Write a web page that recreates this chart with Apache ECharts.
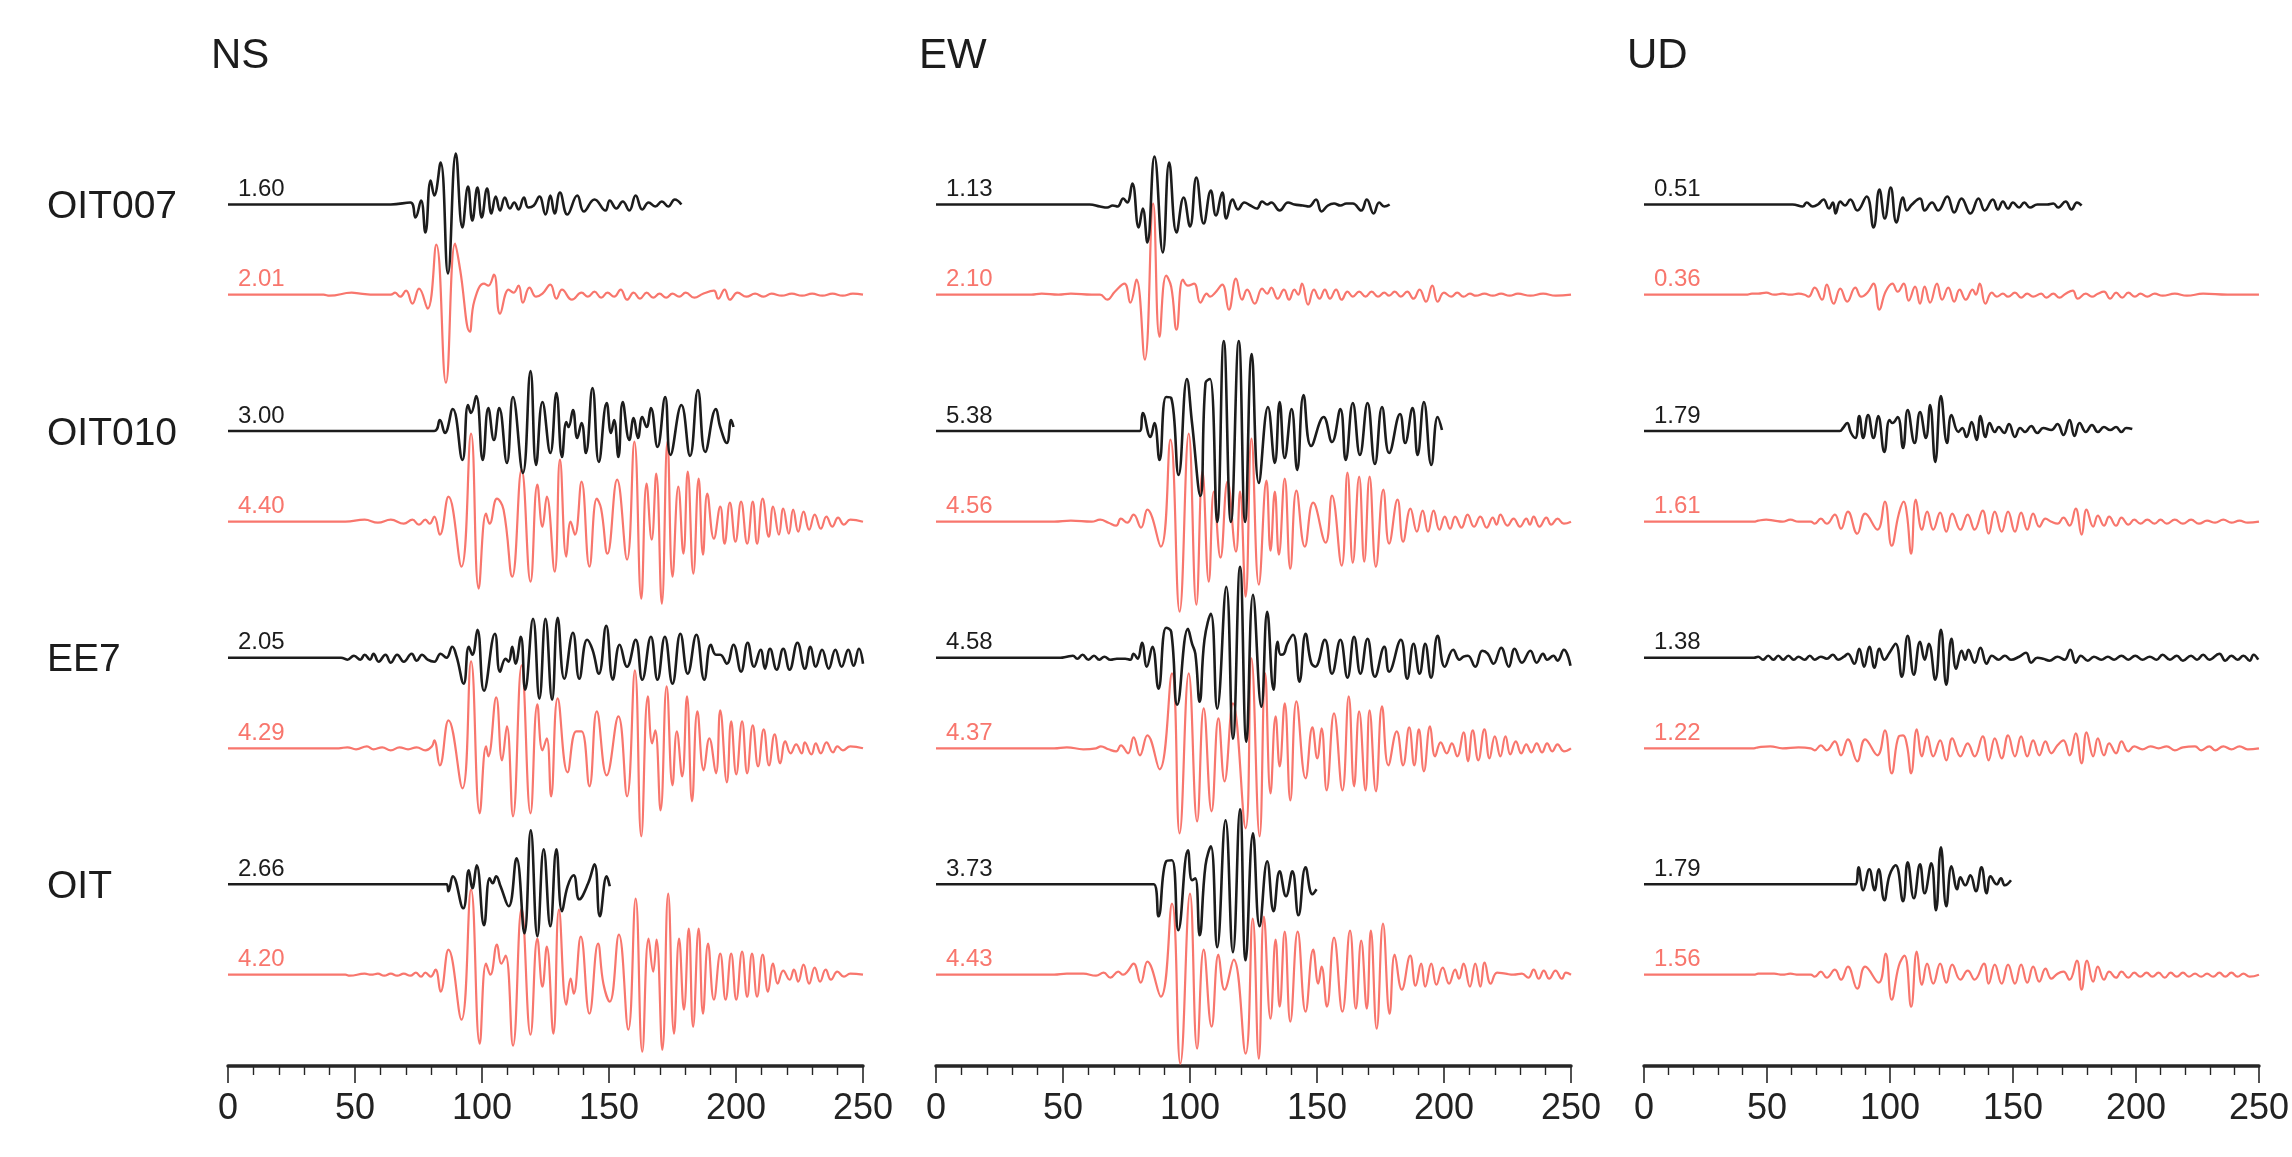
<!DOCTYPE html>
<html>
<head>
<meta charset="utf-8">
<script src="https://cdn.jsdelivr.net/npm/echarts@6/dist/echarts.min.js"></script>
<style>html,body{margin:0;padding:0;background:#fff}#c{width:2292px;height:1157px}</style>
</head>
<body>
<div id="c"></div>
<script>
// ---- labels ----
const components = ['NS', 'EW', 'UD'];
const stations = ['OIT007', 'OIT010', 'EE7', 'OIT'];
const xTicks = [0, 50, 100, 150, 200, 250];
const ampObsNS = ['1.60', '3.00', '2.05', '2.66'];
const ampSynNS = ['2.01', '4.40', '4.29', '4.20'];
const ampObsEW = ['1.13', '5.38', '4.58', '3.73'];
const ampSynEW = ['2.10', '4.56', '4.37', '4.43'];
const ampObsUD = ['0.51', '1.79', '1.38', '1.79'];
const ampSynUD = ['0.36', '1.61', '1.22', '1.56'];

// ---- waveforms: [time (s), relative amplitude] ----
const nsObsOIT007 = [[0,0],[64.1,0],[71.8,2],[73.8,-13],[76.0,4],[77.7,-28],[79.8,24],[81.2,9],[83.7,42],[86.6,-69],[89.7,51],[92.3,-23],[94.5,18],[96.2,-16],[98.2,17],[99.9,-13],[102.0,16],[103.7,-9],[105.4,8],[107.1,-6],[109.0,7],[111.0,-4],[112.7,2],[114.4,-5],[116.5,7],[118.2,-3],[120.4,-1],[122.6,8],[125.0,-10],[126.9,9],[128.6,-9],[130.7,12],[133.6,-10],[137.5,9],[140.1,-7],[144.3,5],[148.6,-6],[150.3,4],[152.9,-4],[155.4,3],[158.0,-6],[160.5,9],[163.1,-5],[165.6,2],[168.2,-2],[170.8,3],[173.3,-2],[175.9,5],[178.5,0]];
const nsSynOIT007 = [[0,0],[37.6,0],[40,-1],[48.7,2],[52.1,1],[58,0],[64.1,0],[65.8,2],[67.8,-2],[70.1,4],[72.6,-9],[75.2,6],[78.6,-14],[82.0,50],[85.8,-88],[89.4,51],[91.4,25],[95.2,-37],[97.0,-6],[100.8,11],[102.5,9],[104.7,20],[107.1,-19],[110.5,5],[112.4,2],[114.4,9],[116.1,-8],[118.7,7],[121.3,-2],[123.8,1],[126.9,10],[129.3,-4],[131.5,5],[135.4,-5],[139.2,2],[141.7,-2],[144.3,3],[146.9,-3],[149.4,2],[152.0,-2],[154.6,5],[157.1,-5],[159.7,2],[162.2,-4],[164.8,2],[167.4,-3],[169.9,1],[172.5,-3],[175.0,1],[177.6,-2],[180.2,2],[183.6,-3],[187.0,1],[191.3,4],[193.0,-4],[195.5,5],[197.6,-5],[200.6,2],[204.1,-2],[207.5,1],[210.9,-2],[214,1],[218,-1],[222,1],[226,-1],[230,1],[234,-1],[238,1],[242,-1],[246,1],[250,0]];
const nsObsOIT010 = [[0,0],[81.2,0],[83.4,11],[85.4,-2],[88.5,22],[92.3,-29],[94.5,26],[95.7,18],[97.7,35],[100.3,-29],[102.5,23],[104.7,-9],[106.8,23],[109.8,-32],[112.2,34],[116.1,-42],[119.1,60],[121.3,-34],[123.8,29],[126.9,-22],[129.3,38],[131.5,-26],[133.2,9],[134.1,4],[135.8,21],[137.5,-7],[139.2,8],[140.9,-22],[143.5,43],[146.0,-31],[149.1,28],[150.8,-2],[152.0,11],[153.7,-26],[155.4,29],[158.0,-9],[159.7,13],[161.4,-7],[163.1,14],[164.8,4],[166.5,23],[169.1,-16],[172.1,34],[174.2,-24],[178.5,26],[181.9,-25],[185.0,41],[187.9,-21],[192.1,22],[193.8,4],[196.4,-12],[198.1,11],[199.0,4]];
const nsSynOIT010 = [[0,0],[46.2,0],[53.8,2],[59.0,-1],[64.1,2],[69.2,-2],[72.6,2],[75.2,-3],[77.7,2],[79.4,-2],[81.2,5],[83.4,-13],[86.8,25],[91.9,-45],[95.7,88],[98.7,-67],[101.6,8],[103.0,-2],[105.9,23],[108.5,12],[111.9,-55],[115.6,52],[119.1,-60],[121.8,37],[123.8,-5],[125.5,25],[128.6,-50],[130.7,62],[133.2,-35],[134.9,0],[136.6,-13],[139.2,40],[142.3,-45],[145.2,23],[146.9,13],[149.4,-32],[153.2,42],[157.1,-38],[160.0,80],[162.7,-77],[164.8,38],[166.8,-18],[168.6,48],[170.8,-82],[173.0,80],[175.0,-55],[177.3,35],[179.3,-32],[181.0,50],[183.2,-52],[185.3,43],[187.0,-33],[188.7,28],[191.3,-17],[193.8,15],[195.5,-22],[197.6,19],[199.8,-20],[202.0,20],[204.4,-22],[206.6,20],[208.3,-22],[210.5,23],[212.9,-15],[214.6,15],[216.9,-13],[218.6,13],[220.8,-12],[222.5,12],[224.5,-10],[226.6,10],[228.8,-8],[231.0,7],[233.4,-7],[235.6,5],[237.9,-5],[240.2,4],[242.5,-3],[245.0,2],[250,0]];
const nsObsEE7 = [[0,0],[44.5,0],[47.0,-2],[49.6,2],[52.1,-2],[53.8,3],[55.9,-2],[57.3,4],[59.3,-4],[62.0,3],[64.1,-5],[66.6,3],[69.2,-4],[72.3,4],[74.3,-3],[76.4,3],[78.6,-2],[81.2,-4],[83.7,4],[86.0,0],[88.3,11],[90.0,1],[92.8,-26],[94.8,11],[96.2,3],[98.2,28],[100.8,-33],[105.1,24],[107.1,-14],[109.3,-1],[110.5,-4],[111.9,11],[113.2,-6],[115.3,21],[117.0,-32],[120.1,39],[122.6,-41],[125.0,39],[127.6,-42],[129.8,40],[132.4,-21],[135.8,25],[138.3,-21],[141.4,18],[143.5,8],[146.0,-16],[148.9,32],[151.5,-22],[154.2,13],[157.1,-9],[160.5,18],[163.1,-22],[166.5,21],[169.1,-22],[172.0,21],[175.0,-26],[178.1,24],[181.0,-16],[184.4,23],[187.5,-22],[190.1,13],[192.1,3],[193.8,3],[196.4,-6],[199.0,13],[202.0,-14],[204.6,15],[207.1,-9],[209.7,8],[211.4,-11],[213.4,9],[216.0,-12],[218.6,9],[221.1,-12],[224.2,15],[227.1,-11],[229.3,11],[231.4,-9],[233.9,8],[236.5,-11],[239.1,8],[241.6,-9],[244.2,8],[246.3,-8],[248.4,9],[250,-6]];
const nsSynEE7 = [[0,0],[43.6,0],[47.0,1],[50.4,-1],[54.7,2],[57.3,-1],[60.7,1],[64.1,-2],[67.5,1],[70.9,-1],[74.3,1],[77.7,-2],[80.3,2],[81.2,8],[83.4,-17],[86.8,28],[92.3,-40],[95.7,87],[99.1,-65],[101.6,2],[102.5,-8],[105.6,51],[107.9,-12],[109.8,22],[112.2,-68],[115.6,83],[119.1,-65],[121.8,44],[123.8,-2],[125.5,10],[127.2,-48],[129.8,50],[133.7,-24],[137.1,17],[139.2,17],[142.3,-38],[145.2,37],[149.1,-27],[153.7,32],[157.1,-48],[160.2,78],[162.7,-88],[165.3,52],[167.0,5],[168.2,18],[170.3,-62],[172.7,62],[175.0,-37],[176.7,17],[178.8,-28],[180.7,52],[182.7,-53],[184.8,37],[187.3,-22],[189.5,10],[192.1,-25],[193.8,38],[196.4,-34],[198.1,27],[200.1,-26],[202.4,27],[204.4,-25],[206.6,23],[208.7,-18],[210.9,19],[213.0,-17],[215.2,14],[217.4,-15],[219.4,7],[221.5,-5],[223.7,4],[225.9,-5],[227.1,6],[229.7,-6],[231.4,5],[233.4,-5],[235.6,6],[238.2,-4],[239.9,2],[242.1,-2],[245.0,2],[250,0]];
const nsObsOIT = [[0,0],[86.0,0],[86.8,-7],[88.5,8],[92.6,-24],[94.8,14],[96.2,-4],[97.9,19],[100.8,-41],[103.0,6],[104.2,1],[105.6,8],[107.3,-2],[110.5,-22],[113.6,26],[116.7,-49],[119.2,54],[121.8,-52],[124.3,35],[126.9,-42],[129.3,35],[131.5,-27],[133.7,-2],[136.1,9],[138.3,-15],[141.8,1],[144.3,20],[146.4,-32],[149.1,8],[150.3,-2]];
const nsSynOIT = [[0,0],[46.2,0],[47.9,-1],[53.8,1],[56.4,0],[59.0,1],[61.5,-1],[64.1,1],[66.6,-1],[69.2,1],[71.8,-1],[74.0,2],[76.0,-2],[77.7,2],[79.8,-2],[81.7,5],[83.7,-17],[86.8,25],[91.9,-45],[95.7,85],[99.1,-69],[101.6,11],[103.3,0],[105.9,30],[107.6,11],[109.3,19],[112.2,-71],[115.6,66],[119.1,-60],[121.8,36],[123.8,-12],[125.5,28],[128.1,-59],[130.3,65],[133.2,-30],[134.9,-4],[136.1,-19],[138.9,38],[142.3,-39],[145.7,31],[147.8,-9],[150.3,-27],[153.9,40],[157.6,-55],[160.5,76],[163.1,-77],[165.6,36],[167.4,3],[168.7,35],[171.0,-75],[173.3,81],[175.6,-59],[177.6,36],[179.5,-35],[181.4,46],[183.1,-52],[185.3,46],[187.0,-39],[189.0,31],[191.3,-25],[193.8,21],[195.9,-25],[198.1,21],[200.1,-25],[202.4,23],[204.4,-22],[206.3,21],[208.3,-22],[210.5,20],[212.6,-17],[214.6,11],[216.4,-9],[218.6,4],[221.1,-5],[222.8,5],[224.5,-7],[226.6,10],[228.8,-9],[231.0,7],[233.1,-7],[235.3,5],[237.4,-5],[239.9,3],[242.5,-2],[245.0,1],[250,0]];

const ewObsOIT007 = [[0,0],[60.5,0],[64.6,-2],[67.4,-3],[69.6,-1],[71.5,-2],[73.7,6],[75.3,2],[77.3,21],[79.8,-23],[81.4,-4],[83.2,-38],[86.0,48],[89.3,-48],[91.8,42],[94.7,-28],[97.5,7],[100.0,-22],[102.5,27],[105.4,-19],[108.2,14],[110.2,-11],[112.7,12],[114.3,-14],[116.8,5],[118.9,-5],[121.4,2],[123.8,-1],[126.3,-4],[128.4,3],[130.4,0],[132.0,2],[135.3,-6],[138.6,2],[141.1,0],[144.4,-1],[146.9,-2],[149.6,5],[151.8,-7],[154.3,-1],[156.7,1],[159.2,-1],[161.6,1],[164.1,1],[167.4,-6],[169.6,5],[172.3,-9],[174.5,2],[176.5,-2],[178.6,0]];
const ewSynOIT007 = [[0,0],[37.5,0],[41.6,1],[48.2,0],[53.1,1],[61.3,0],[64.6,0],[67.4,-5],[70.4,3],[74.2,11],[76.5,-8],[78.9,15],[82.2,-65],[85.5,91],[88.0,-42],[90.6,19],[92.6,8],[94.7,-35],[97.2,15],[99.2,9],[101.6,11],[104.1,-8],[106.6,1],[107.9,-2],[109.9,2],[112.7,10],[115.3,-15],[118.1,16],[120.5,-5],[122.5,5],[125.5,-9],[128.4,6],[130.4,1],[132.0,7],[134.5,-4],[137.0,5],[139.0,-5],[141.1,5],[142.6,0],[144.1,11],[146.5,-10],[148.8,5],[151.0,-4],[153.1,5],[155.1,-4],[157.5,5],[159.7,-5],[162.0,3],[164.1,-2],[166.6,3],[169.1,-2],[171.5,3],[174.0,-2],[176.5,2],[178.4,-1],[180.6,3],[183.0,-2],[185.5,3],[188.0,-4],[190.4,5],[192.9,-7],[195.4,9],[197.5,-7],[200.0,2],[202.8,-2],[205.2,2],[207.7,-2],[210.2,1],[212.6,-1],[215.9,1],[219.2,-1],[222.5,1],[225.8,-1],[229.1,1],[234.0,-1],[239.0,1],[244,-1],[250,0]];
const ewObsOIT010 = [[0,0],[80.2,0],[81.4,18],[84.4,-6],[86.0,8],[88.0,-29],[90.6,34],[92.6,33],[95.5,-44],[98.8,52],[100.8,8],[104.1,-65],[106.1,48],[107.9,52],[110.7,-91],[113.3,90],[116.1,-91],[119.2,90],[121.7,-91],[124.3,77],[127.1,-52],[130.7,24],[133.4,-32],[135.3,29],[137.3,-27],[140.0,22],[142.2,-39],[144.7,36],[147.7,-15],[152.6,14],[155.9,-11],[159.2,22],[161.3,-29],[164.1,28],[166.9,-24],[169.9,28],[172.8,-33],[175.6,24],[178.4,-22],[182.7,17],[184.7,-12],[187.6,23],[189.6,-24],[192.1,29],[195.0,-34],[197.5,14],[199.2,1]];
const ewSynOIT010 = [[0,0],[46.5,0],[53.1,1],[61.3,0],[64.6,2],[67.9,-1],[70.9,-4],[72.8,3],[75.3,-1],[77.8,7],[80.7,-6],[83.2,12],[88.5,-25],[92.3,82],[95.9,-90],[99.5,88],[102.5,-83],[104.9,50],[107.4,-60],[109.4,30],[112.0,-36],[114.8,40],[118.1,-30],[119.7,30],[121.9,-75],[124.2,83],[127.1,-63],[130.1,41],[131.7,-29],[133.4,30],[135.0,-33],[137.3,43],[139.5,-47],[141.9,31],[145.2,-25],[148.5,19],[153.4,-21],[155.9,26],[159.7,-44],[162.0,49],[164.1,-41],[166.6,45],[168.6,-40],[170.7,45],[173.2,-45],[176.1,32],[178.4,-22],[181.7,22],[183.9,-20],[186.8,13],[189.3,-10],[191.6,11],[193.7,-10],[195.9,11],[198.2,-8],[200.3,5],[202.4,-7],[204.4,5],[206.9,-6],[209.3,7],[211.8,-5],[214.3,5],[216.8,-6],[219.2,4],[220.7,-3],[222.2,7],[225.0,-4],[227.4,3],[229.9,-5],[232.4,3],[233.8,-3],[235.3,5],[237.6,-5],[240.3,4],[242.2,-3],[244.7,3],[247.2,-2],[250,0]];
const ewObsEE7 = [[0,0],[49.0,0],[51.5,1],[53.9,2],[55.6,-1],[57.7,3],[60.0,-2],[62.2,2],[64.3,-2],[66.3,1],[68.7,-2],[71.2,-1],[74.5,-1],[76.5,-2],[77.8,4],[79.4,-1],[81.1,15],[83.0,-9],[85.2,11],[87.6,-31],[90.6,30],[92.6,26],[95.0,-47],[99.2,29],[100.8,14],[102.1,4],[103.8,-44],[105.7,18],[108.2,44],[110.7,-51],[114.3,71],[116.9,-81],[119.7,91],[122.2,-84],[124.8,63],[128.1,-49],[130.4,46],[132.9,-32],[134.5,16],[135.7,3],[137.0,4],[138.3,14],[140.6,23],[143.1,-24],[145.5,24],[147.7,-5],[149.3,-9],[153.1,18],[155.9,-16],[159.2,18],[162.0,-20],[164.6,21],[167.1,-16],[169.9,19],[172.8,-19],[176.5,11],[178.4,-14],[183.0,18],[185.5,-21],[188.0,14],[190.4,-16],[192.6,14],[194.9,-20],[197.5,22],[200.3,-9],[203.6,8],[206.1,-2],[207.7,1],[209.4,2],[212.3,-9],[215.1,7],[217.2,4],[219.5,-6],[222.5,10],[225.5,-9],[227.8,9],[230.7,-5],[234.0,7],[236.5,-5],[239.0,4],[240.6,-2],[243.1,2],[244.7,-3],[247.2,8],[249.8,-8]];
const ewSynEE7 = [[0,0],[46.5,0],[51.5,1],[58.0,-1],[63.0,0],[64.9,2],[67.9,-1],[70.9,-3],[72.8,3],[75.6,-5],[77.8,11],[80.3,-7],[83.2,13],[88.0,-21],[92.9,75],[95.9,-85],[99.5,75],[102.8,-73],[105.4,40],[108.5,-63],[111.2,30],[113.6,-33],[116.9,45],[121.9,-80],[124.2,90],[127.4,-88],[129.6,75],[131.7,-45],[133.7,32],[135.3,-18],[137.3,45],[139.5,-52],[141.9,47],[145.5,-30],[148.2,21],[150.1,-10],[151.8,20],[153.8,-42],[156.7,35],[160.0,-42],[162.5,52],[164.6,-38],[166.6,37],[169.1,-42],[170.7,38],[173.2,-43],[175.6,42],[178.1,-17],[181.4,17],[183.9,-17],[186.3,21],[188.3,-17],[190.1,19],[192.1,-23],[194.5,22],[196.5,-8],[198.7,6],[201.1,-5],[203.1,5],[205.2,-8],[207.7,16],[209.4,-13],[211.3,18],[213.5,-12],[215.9,19],[217.9,-10],[220.0,12],[222.2,-8],[224.2,12],[226.1,-6],[228.3,7],[230.4,-5],[232.4,4],[234.4,-4],[236.5,5],[238.6,-4],[240.6,5],[242.6,-3],[244.7,4],[247.2,-3],[250,0]];
const ewObsOIT = [[0,0],[85.7,0],[87.6,-32],[90.6,23],[92.9,24],[95.4,-46],[99.2,34],[100.8,4],[102.1,6],[103.8,-51],[106.1,19],[108.2,38],[110.7,-63],[114.0,64],[116.9,-68],[119.7,75],[121.9,-76],[124.8,51],[127.4,-42],[130.4,23],[132.9,-27],[135.3,13],[137.8,-12],[140.3,13],[142.7,-31],[145.5,17],[148.2,-10],[149.8,-5]];
const ewSynOIT = [[0,0],[46.5,0],[51.5,1],[58.0,1],[63.0,-1],[66.0,2],[68.7,-3],[71.7,3],[73.7,0],[75.3,3],[77.8,11],[80.6,-8],[83.2,13],[88.5,-22],[92.9,71],[96.2,-89],[100.0,81],[102.8,-74],[105.4,25],[108.5,-52],[111.2,20],[113.6,-15],[117.2,15],[121.9,-79],[124.7,56],[127.1,-84],[129.1,58],[131.7,-44],[133.7,35],[135.3,-32],[137.3,43],[139.5,-47],[142.4,43],[145.5,-37],[148.5,25],[150.5,-9],[151.8,8],[153.9,-32],[156.7,37],[160.0,-37],[163.0,44],[165.3,-34],[167.4,34],[169.6,-34],[171.2,44],[173.5,-54],[176.0,51],[178.6,-39],[180.6,20],[183.4,-15],[186.7,19],[188.8,-11],[191.0,11],[192.6,-12],[195.0,11],[197.0,-10],[199.5,7],[202.0,-9],[204.4,5],[205.9,-4],[207.7,11],[210.2,-12],[212.3,11],[214.3,-12],[216.0,12],[218.4,-9],[220.9,2],[224.2,1],[227.4,0],[230.7,1],[233.2,-3],[235.3,5],[237.3,-4],[239.3,4],[241.4,-4],[243.9,4],[246.4,-4],[248.0,2],[250,0]];

const udObsOIT007 = [[0,0],[60.4,0],[64.5,-2],[66.1,2],[68.6,-2],[70.7,0],[73.0,5],[75.2,-4],[76.8,2],[77.9,-9],[79.8,3],[81.7,-1],[83.9,5],[86.7,-6],[90.5,8],[93.3,-23],[95.7,15],[97.9,-14],[100.3,17],[102.6,-18],[105.3,7],[106.9,-6],[108.9,0],[112.2,6],[114.1,-6],[117.1,2],[119.6,-6],[123.3,8],[126.1,-8],[129.1,6],[132.7,-9],[136.0,6],[138.5,-6],[141.8,5],[143.9,-5],[145.9,3],[148.0,-4],[150.0,2],[152.5,-3],[154.6,2],[156.9,-3],[159.9,0],[163.9,0],[166.4,1],[168.4,-3],[171.4,3],[173.8,-5],[176.0,2],[177.9,-1]];
const udSynOIT007 = [[0,0],[41.5,0],[43.9,1],[46.4,1],[49.7,2],[52.9,0],[56.3,1],[59.5,0],[62.8,1],[65.3,0],[66.9,-2],[69.4,7],[72.4,-5],[74.3,10],[77.1,-9],[79.8,6],[82.6,-7],[85.9,7],[88.3,-2],[90.8,2],[93.3,11],[95.7,-15],[98.2,3],[101.0,11],[103.1,3],[105.6,11],[107.6,-6],[110.2,8],[112.2,-9],[114.1,8],[116.3,-8],[119.1,11],[121.2,-5],[123.7,7],[126.1,-7],[128.3,5],[130.8,-5],[133.6,5],[134.9,0],[136.5,11],[138.8,-9],[141.4,2],[143.4,-2],[145.9,1],[148.0,-2],[150.8,2],[153.3,-3],[155.8,1],[158.2,-2],[161.5,1],[163.5,-3],[166.4,1],[168.9,-3],[171.4,1],[174.3,4],[176.3,-4],[179.6,1],[182.1,-2],[184.5,1],[187.0,3],[189.5,-4],[191.9,2],[194.4,-3],[196.9,2],[199.6,-2],[201.8,1],[204.6,-2],[207.6,1],[210.8,-1],[215.8,1],[220.7,-1],[227.3,1],[237.2,0],[250,0]];
const udObsOIT010 = [[0,0],[79.6,0],[80.9,3],[82.6,8],[84.2,-2],[85.9,-7],[87.5,15],[89.1,-7],[91.1,16],[93.3,-7],[95.2,15],[97.7,-21],[99.8,11],[101.0,8],[103.1,14],[105.3,-17],[107.2,21],[110.0,-12],[112.2,19],[114.6,-7],[116.3,26],[118.4,-31],[120.7,35],[123.2,-12],[125.0,16],[127.8,-1],[129.4,3],[131.1,-6],[133.2,9],[135.2,-9],[136.8,15],[138.8,-6],[140.5,8],[142.6,-1],[144.2,4],[146.4,-2],[148.4,7],[150.8,-6],[152.9,3],[154.9,-1],[157.4,5],[159.9,-2],[162.3,3],[165.6,1],[168.1,7],[170.5,-4],[173.0,11],[175.0,-5],[177.1,8],[179.6,-1],[182.1,6],[184.5,-1],[187.0,4],[189.5,1],[191.9,4],[194.1,-1],[196.0,3],[198.5,2]];
const udSynOIT010 = [[0,0],[44.7,0],[46.4,1],[49.7,2],[52.9,1],[56.3,0],[59.5,2],[62.8,0],[67.8,0],[69.4,-2],[71.9,3],[74.3,-2],[77.6,7],[80.1,-7],[82.9,10],[86.7,-12],[89.9,8],[94.9,-8],[97.9,20],[100.7,-24],[103.6,8],[105.6,20],[106.9,7],[108.6,-32],[110.5,22],[113.0,-8],[115.1,10],[117.6,-8],[120.4,9],[122.9,-10],[125.3,8],[128.6,-8],[131.6,7],[134.4,-8],[137.7,11],[140.1,-12],[142.6,10],[145.4,-10],[148.0,10],[150.8,-10],[153.3,9],[155.8,-8],[158.2,8],[160.7,-5],[163.2,3],[165.6,0],[168.1,-2],[170.5,4],[173.0,-4],[175.5,13],[177.9,-13],[179.9,12],[182.6,-5],[184.5,6],[187.0,-4],[189.1,5],[191.9,-4],[194.1,4],[196.9,-3],[199.3,2],[201.8,-2],[204.6,2],[207.6,-2],[210.0,2],[212.5,-2],[215.8,2],[219.1,-2],[222.4,2],[225.6,-2],[228.9,1],[232.2,-1],[235.5,2],[238.8,-1],[242.1,1],[245.4,-1],[250,0]];
const udObsEE7 = [[0,0],[44.7,0],[46.4,1],[48.4,-2],[50.5,2],[52.6,-2],[54.6,2],[56.6,-2],[58.7,2],[60.9,-2],[62.8,1],[65.3,-2],[67.4,2],[69.4,-2],[71.9,1],[74.3,-1],[76.8,3],[78.9,-2],[81.3,1],[82.9,4],[85.5,-6],[87.5,9],[89.5,-9],[91.6,11],[93.7,-10],[95.7,9],[97.7,-2],[99.8,5],[102.3,14],[104.8,-19],[107.2,22],[109.7,-17],[112.2,16],[114.1,-2],[115.8,14],[118.4,-22],[120.7,28],[122.9,-27],[125.0,19],[126.9,-11],[129.1,7],[130.6,-2],[131.9,8],[134.4,-5],[136.8,10],[139.3,-6],[141.4,2],[144.2,-2],[146.7,2],[149.2,-2],[152.5,1],[155.3,5],[157.4,-5],[159.9,0],[162.3,-1],[164.8,-3],[168.1,1],[171.0,-2],[173.3,8],[175.5,-5],[177.6,2],[180.4,-3],[182.9,1],[185.9,-2],[188.6,1],[191.1,-2],[194.1,2],[196.9,-2],[199.7,2],[202.6,-2],[205.6,1],[208.4,-2],[210.8,3],[213.8,-2],[216.6,2],[219.1,-3],[222.4,2],[224.8,-2],[227.3,3],[229.8,-2],[233.9,4],[236.3,-3],[238.8,2],[241.3,-2],[243.7,2],[246.2,-3],[247.8,3],[249.7,-2]];
const udSynEE7 = [[0,0],[44.7,0],[46.4,1],[51.3,2],[56.3,0],[62.8,1],[67.8,0],[69.4,-2],[71.9,3],[74.3,-2],[77.6,7],[80.1,-7],[82.9,9],[86.7,-13],[89.9,9],[94.9,-7],[97.9,18],[100.7,-25],[103.6,12],[105.3,13],[106.9,3],[108.6,-25],[110.9,19],[113.0,-8],[115.1,12],[117.6,-8],[120.4,8],[122.9,-12],[125.3,10],[128.6,-8],[131.6,5],[134.4,-8],[137.7,12],[140.1,-12],[142.6,10],[145.4,-10],[148.0,13],[150.8,-8],[153.3,12],[155.8,-8],[158.2,8],[160.7,-7],[163.2,7],[165.6,-5],[168.1,3],[170.5,8],[173.0,-7],[175.5,15],[177.9,-15],[179.9,16],[182.6,-8],[184.5,10],[187.0,-7],[189.1,5],[191.9,-5],[194.1,7],[196.9,-3],[199.3,2],[202.6,-1],[205.9,2],[209.2,0],[212.5,2],[215.8,-2],[219.1,1],[224.0,2],[226.5,-2],[229.8,2],[232.2,-2],[235.5,2],[238.8,-1],[242.1,2],[245.4,-1],[250,0]];
const udObsOIT = [[0,0],[85.9,0],[87.2,17],[89.1,-6],[91.6,15],[93.7,-6],[95.4,15],[97.7,-16],[99.8,9],[102.3,19],[105.3,-17],[107.2,22],[109.7,-14],[112.2,20],[114.1,-9],[116.8,21],[118.7,-26],[120.7,37],[122.9,-22],[125.0,18],[127.3,-5],[128.6,7],[130.6,-1],[132.7,9],[134.9,-7],[137.2,17],[139.3,-9],[140.9,8],[143.4,0],[145.1,6],[146.7,-1],[149.2,4]];
const udSynOIT = [[0,0],[44.7,0],[46.4,1],[52.9,1],[56.3,0],[59.5,1],[62.8,0],[67.8,0],[69.4,-2],[71.9,3],[74.3,-3],[77.6,5],[80.1,-5],[82.9,8],[86.7,-14],[89.9,8],[95.4,-8],[98.2,21],[100.7,-25],[103.6,9],[105.9,19],[108.6,-32],[110.9,23],[113.0,-10],[115.1,11],[117.6,-9],[120.4,11],[122.9,-8],[125.3,10],[128.6,-5],[131.6,4],[134.4,-5],[138.2,11],[140.1,-9],[142.6,10],[145.4,-9],[148.0,10],[150.8,-9],[153.3,10],[155.8,-8],[158.2,8],[160.7,-7],[163.2,6],[165.6,-4],[168.1,1],[170.5,3],[173.0,-5],[176.0,14],[177.9,-15],[180.1,14],[182.6,-7],[184.5,8],[187.0,-5],[189.1,3],[191.9,-3],[194.1,3],[196.9,-3],[199.3,2],[201.8,-2],[204.3,2],[206.7,-2],[209.2,2],[211.7,-3],[214.1,2],[216.6,-2],[219.1,2],[221.5,-2],[224.0,1],[226.5,-2],[228.9,1],[231.4,-2],[233.9,2],[236.3,-2],[238.8,2],[241.3,-2],[243.7,1],[246.2,-2],[250,0]];

// ---- layout ----
const W = 2292, H = 1157;
const AXIS_Y = 1066, GRID_TOP = 100;
const gridLeft = [228, 936, 1644];
const GRID_W = 635;
const obsBaseY = [204.5, 431, 657.7, 884.3];
const synBaseY = [294.7, 521.7, 748.3, 974.7];
const TEXT_DY = 3;
const BLACK = '#1c1c1c', RED = '#f8766d';
const FONT = '"Liberation Sans", Arial, Helvetica, sans-serif';

const obsSets = [
  [nsObsOIT007, nsObsOIT010, nsObsEE7, nsObsOIT],
  [ewObsOIT007, ewObsOIT010, ewObsEE7, ewObsOIT],
  [udObsOIT007, udObsOIT010, udObsEE7, udObsOIT]
];
const synSets = [
  [nsSynOIT007, nsSynOIT010, nsSynEE7, nsSynOIT],
  [ewSynOIT007, ewSynOIT010, ewSynEE7, ewSynOIT],
  [udSynOIT007, udSynOIT010, udSynEE7, udSynOIT]
];
const ampObs = [ampObsNS, ampObsEW, ampObsUD];
const ampSyn = [ampSynNS, ampSynEW, ampSynUD];

const grids = [], xAxes = [], yAxes = [], series = [], graphics = [];
components.forEach((comp, i) => {
  grids.push({ left: gridLeft[i], width: GRID_W, top: GRID_TOP, height: AXIS_Y - GRID_TOP, containLabel: false });
  xAxes.push({
    gridIndex: i, type: 'value', min: xTicks[0], max: xTicks[xTicks.length - 1], interval: xTicks[1] - xTicks[0],
    axisLine: { show: true, onZero: false, lineStyle: { color: '#262626', width: 3.5 } },
    axisTick: { show: true, length: 17, inside: false, lineStyle: { color: '#262626', width: 1.6 } },
    minorTick: { show: true, splitNumber: 5, length: 9, lineStyle: { color: '#262626', width: 1.4 } },
    axisLabel: { show: true, margin: 25, fontSize: 36, color: '#222', fontFamily: FONT, showMinLabel: true, showMaxLabel: true },
    splitLine: { show: false }, minorSplitLine: { show: false }
  });
  yAxes.push({ gridIndex: i, type: 'value', min: 0, max: AXIS_Y - GRID_TOP, show: false, splitLine: { show: false } });
  stations.forEach((st, k) => {
    const ob = AXIS_Y - obsBaseY[k], sb = AXIS_Y - synBaseY[k];
    series.push({
      name: comp + ' ' + st + ' observed', type: 'line', xAxisIndex: i, yAxisIndex: i,
      data: obsSets[i][k].map(p => [p[0], ob + p[1]]),
      showSymbol: false, smooth: 0.45, clip: false,
      lineStyle: { color: BLACK, width: 2.6 }, z: 3
    });
    series.push({
      name: comp + ' ' + st + ' synthetic', type: 'line', xAxisIndex: i, yAxisIndex: i,
      data: synSets[i][k].map(p => [p[0], sb + p[1]]),
      showSymbol: false, smooth: 0.45, clip: false,
      lineStyle: { color: RED, width: 2.2 }, z: 2
    });
    graphics.push({ type: 'text', x: gridLeft[i] + 10, y: obsBaseY[k] - 18 + TEXT_DY,
      style: { text: ampObs[i][k], fill: BLACK, fontSize: 24, fontFamily: FONT, align: 'left', verticalAlign: 'middle' } });
    graphics.push({ type: 'text', x: gridLeft[i] + 10, y: synBaseY[k] - 18 + TEXT_DY,
      style: { text: ampSyn[i][k], fill: RED, fontSize: 24, fontFamily: FONT, align: 'left', verticalAlign: 'middle' } });
  });
  graphics.push({ type: 'text', x: gridLeft[i] - 17, y: 53 + TEXT_DY,
    style: { text: comp, fill: '#1c1c1c', fontSize: 42, fontFamily: FONT, align: 'left', verticalAlign: 'middle' } });
});
stations.forEach((st, k) => {
  graphics.push({ type: 'text', x: 47, y: obsBaseY[k] + TEXT_DY,
    style: { text: st, fill: '#1c1c1c', fontSize: 39, fontFamily: FONT, align: 'left', verticalAlign: 'middle' } });
});

const chart = echarts.init(document.getElementById('c'), null, { renderer: 'canvas', width: W, height: H });
chart.setOption({
  animation: false,
  backgroundColor: '#ffffff',
  grid: grids, xAxis: xAxes, yAxis: yAxes, series: series, graphic: graphics
});
</script>
</body>
</html>
